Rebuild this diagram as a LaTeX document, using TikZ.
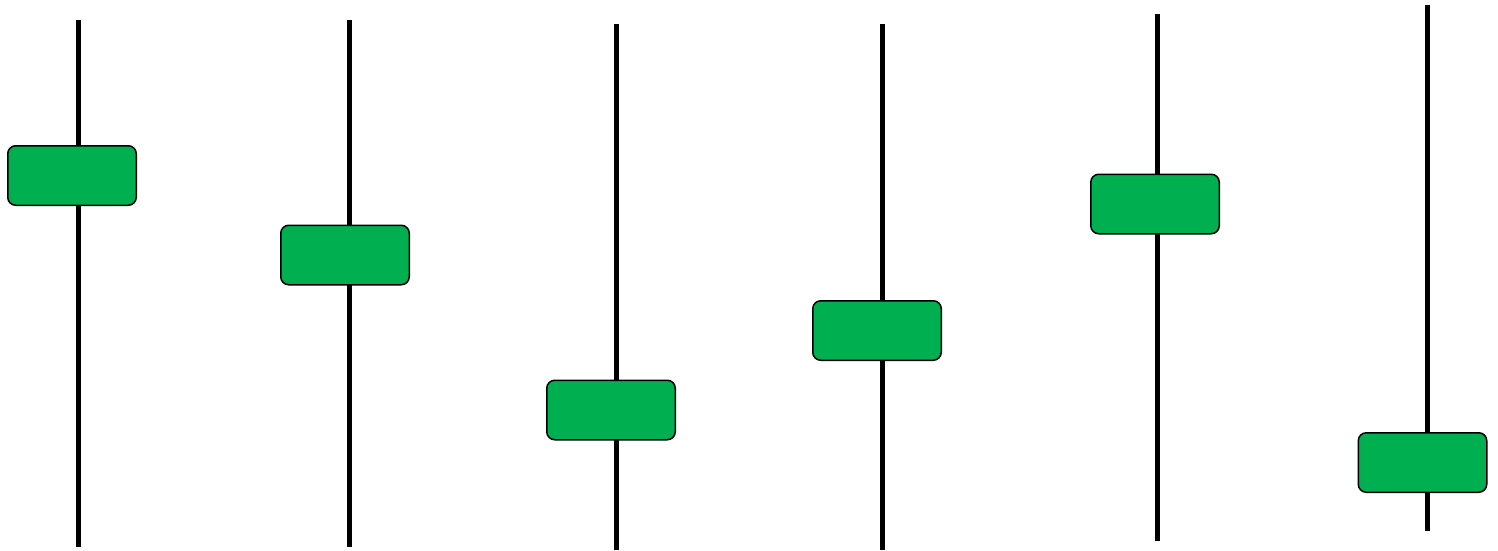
\documentclass[tikz,border=0pt]{standalone}
\usetikzlibrary{positioning}
\definecolor{boxgreen}{HTML}{00B050}
\begin{document}
\begin{tikzpicture}[x=1pt,y=-1pt,
  rod/.style={line width=5pt,black},
  knob/.style={draw=black,line width=1.5pt,fill=boxgreen,rounded corners=8pt,minimum width=128.5pt,minimum height=59.5pt,inner sep=0pt}]
\useasboundingbox (0,0) rectangle (1498,550);
% rod end points
\coordinate (t1) at (78,20);   \coordinate (b1) at (78,547);
\coordinate (t2) at (349,20);  \coordinate (b2) at (349,547);
\coordinate (t3) at (616,24);  \coordinate (b3) at (616,550);
\coordinate (t4) at (882,24);  \coordinate (b4) at (882,550);
\coordinate (t5) at (1157,14); \coordinate (b5) at (1157,541);
\coordinate (t6) at (1427,5);  \coordinate (b6) at (1427,531);
\foreach \i in {1,...,6} \draw[rod] (t\i) -- (b\i);
% knobs
\node[knob] (k1) at (72,175.5) {};
\node[knob] (k2) at (345,255) {};
\node[knob] (k3) at (611,410) {};
\node[knob] (k4) at (877,330.5) {};
\node[knob] (k5) at (1155,204) {};
\node[knob] (k6) at (1422.5,462.5) {};
\end{tikzpicture}
\end{document}
